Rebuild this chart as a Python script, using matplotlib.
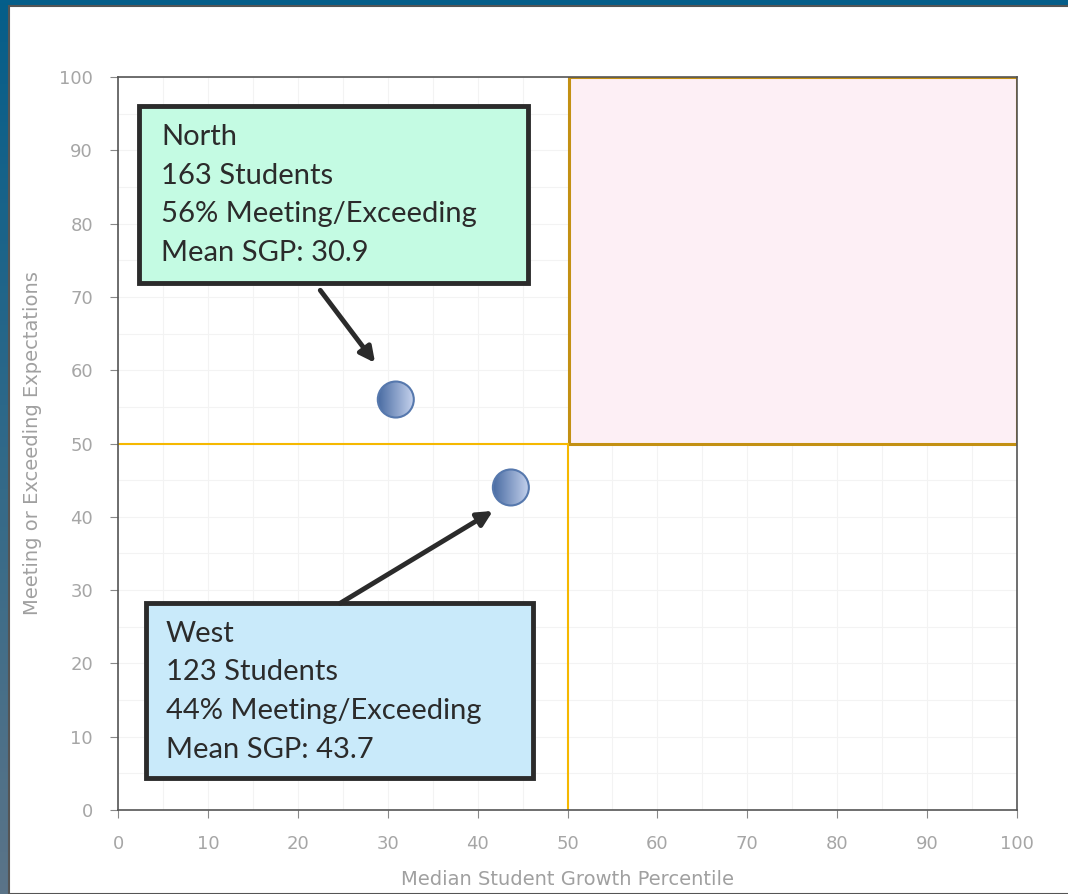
import numpy as np
import matplotlib.pyplot as plt
from matplotlib.patches import Rectangle, Ellipse

# data
school_names = ["North", "West"]
student_counts = [163, 123]
median_sgp = [30.9, 43.7]
pct_meeting = [56, 44]
mean_sgp = [30.9, 43.7]
x_ticks = [0, 10, 20, 30, 40, 50, 60, 70, 80, 90, 100]
y_ticks = [0, 10, 20, 30, 40, 50, 60, 70, 80, 90, 100]
cut_x = 50
cut_y = 50

W, H = 1068, 894
fig = plt.figure(figsize=(W / 100, H / 100), dpi=100)

# --- slide background: blue frame with gradient down the left edge ---
bg = fig.add_axes([0, 0, 1, 1], zorder=-10)
grad = np.linspace(0, 1, 256)[:, None]
top_c = np.array([0x05, 0x5e, 0x8a]) / 255
bot_c = np.array([0x5b, 0x74, 0x88]) / 255
img = top_c[None, None, :] * (1 - grad[:, :, None]) + bot_c[None, None, :] * grad[:, :, None]
bg.imshow(img, aspect="auto", extent=[0, 1, 0, 1], origin="upper")
bg.add_patch(Rectangle((9 / W, 0), 1, 1 - 6 / H, facecolor="white",
                       edgecolor="#555555", linewidth=1.5))
bg.set_xlim(0, 1); bg.set_ylim(0, 1)
bg.axis("off")

# --- main chart ---
ax = fig.add_axes([118 / W, 1 - 810 / H, (1017 - 118) / W, (810 - 77) / H])
ax.set_xlim(0, 100)
ax.set_ylim(0, 100)
ax.set_xticks(x_ticks)
ax.set_yticks(y_ticks)
ax.set_xticks(np.arange(0, 101, 5), minor=True)
ax.set_yticks(np.arange(0, 101, 5), minor=True)
ax.grid(True, which="both", color="#f3f3f3", linewidth=0.8)
ax.set_axisbelow(True)
ax.tick_params(which="minor", length=0)
ax.tick_params(which="major", direction="out", length=6, color="#888888",
               labelcolor="#a6a6a6", labelsize=13, pad=12)
for s in ax.spines.values():
    s.set_color("#555555")
    s.set_linewidth(1.2)
ax.set_xlabel("Median Student Growth Percentile", color="#a0a0a0", fontsize=14, labelpad=12)
ax.set_ylabel("Meeting or Exceeding Expectations", color="#a0a0a0", fontsize=14, labelpad=12)

# target quadrant
ax.add_patch(Rectangle((cut_x + 0.2, cut_y), 100 - cut_x - 0.2, 100 - cut_y,
                       facecolor="#fdeff5", edgecolor="#c39013", linewidth=2.2, zorder=1))
ax.plot([0, cut_x], [cut_y, cut_y], color="#f5b800", linewidth=1.5, zorder=2)
ax.plot([cut_x, cut_x], [0, cut_y], color="#f5b800", linewidth=1.5, zorder=2)

# schools: circles with a left-to-right blue gradient
dx, dy = 36 / 8.99, 36 / 7.33
cmap_img = np.linspace(0, 1, 64)[None, :, None]
dark = np.array([0x4a, 0x6c, 0xa3]) / 255
light = np.array([0xc6, 0xd3, 0xee]) / 255
shade = dark[None, None, :] * (1 - cmap_img) + light[None, None, :] * cmap_img
shade = np.repeat(shade, 8, axis=0)
for x, y in zip(median_sgp, pct_meeting):
    circ = Ellipse((x, y), dx, dy, facecolor="none", edgecolor="#5678ad",
                   linewidth=1.5, zorder=6)
    ax.add_patch(circ)
    im = ax.imshow(shade, extent=[x - dx / 2, x + dx / 2, y - dy / 2, y + dy / 2],
                   aspect="auto", zorder=5)
    im.set_clip_path(circ)
ax.set_xlim(0, 100)
ax.set_ylim(0, 100)

# callout boxes
boxes = [
    dict(xy=(2.35, 71.9), w=43.3, h=24.1, fc="#c4fbe3", text_xy=(4.8, 93.6),
         arrow_from=(22.5, 70.9), arrow_to=(28.6, 61.0)),
    dict(xy=(3.1, 4.4), w=43.1, h=23.8, fc="#c9eafa", text_xy=(5.3, 25.8),
         arrow_from=(24.7, 28.2), arrow_to=(41.7, 40.8)),
]
for i, b in enumerate(boxes):
    ax.add_patch(Rectangle(b["xy"], b["w"], b["h"], facecolor=b["fc"],
                           edgecolor="#2b2b2b", linewidth=3.5, zorder=7))
    label = (f"{school_names[i]}\n{student_counts[i]} Students\n"
             f"{pct_meeting[i]}% Meeting/Exceeding\nMean SGP: {mean_sgp[i]}")
    ax.text(b["text_xy"][0], b["text_xy"][1], label, fontsize=21, family="Lato",
            color="#2b2b2b", va="top", ha="left", linespacing=1.6, zorder=8)
    ax.annotate("", xy=b["arrow_to"], xytext=b["arrow_from"], zorder=8,
                arrowprops=dict(arrowstyle="-|>,head_length=0.9,head_width=0.45",
                                color="#2b2b2b", linewidth=3.5, shrinkA=0, shrinkB=0))

fig.savefig("out.png", dpi=100)
